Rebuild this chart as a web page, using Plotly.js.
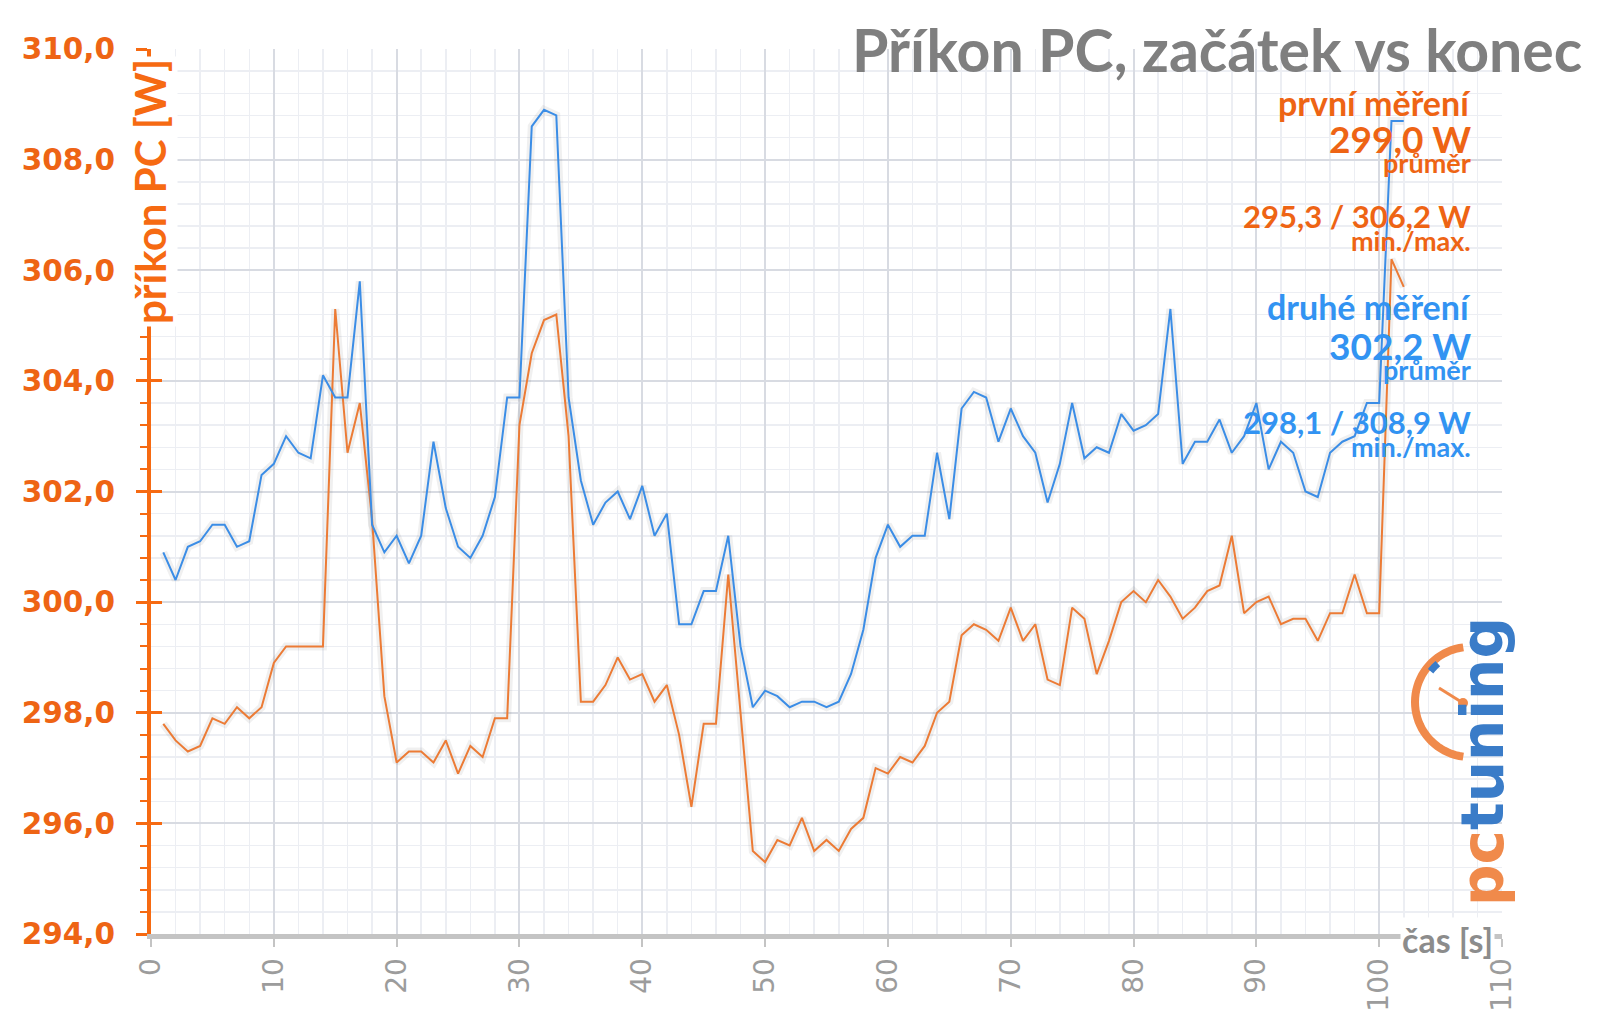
<!DOCTYPE html>
<html>
<head>
<meta charset="utf-8">
<script src="https://cdn.plot.ly/plotly-3.0.1.min.js"></script>
<style>html,body{margin:0;padding:0;background:#fff;}#chart{width:1600px;height:1017px;}</style>
</head>
<body>
<div id="chart"></div>
<script>
// time [s]
const cas = [1,2,3,4,5,6,7,8,9,10,11,12,13,14,15,16,17,18,19,20,21,22,23,24,25,26,27,28,29,30,
  31,32,33,34,35,36,37,38,39,40,41,42,43,44,45,46,47,48,49,50,51,52,53,54,55,56,57,58,59,60,
  61,62,63,64,65,66,67,68,69,70,71,72,73,74,75,76,77,78,79,80,81,82,83,84,85,86,87,88,89,90,
  91,92,93,94,95,96,97,98,99,100,101,102];

// první měření (orange)
const prvniMereni = [297.8,297.5,297.3,297.4,297.9,297.8,298.1,297.9,298.1,298.9,
  299.2,299.2,299.2,299.2,305.3,302.7,303.6,301.5,298.3,297.1,
  297.3,297.3,297.1,297.5,296.9,297.4,297.2,297.9,297.9,303.2,
  304.5,305.1,305.2,303.0,298.2,298.2,298.5,299.0,298.6,298.7,
  298.2,298.5,297.6,296.3,297.8,297.8,300.5,298.0,295.5,295.3,
  295.7,295.6,296.1,295.5,295.7,295.5,295.9,296.1,297.0,296.9,
  297.2,297.1,297.4,298.0,298.2,299.4,299.6,299.5,299.3,299.9,
  299.3,299.6,298.6,298.5,299.9,299.7,298.7,299.3,300.0,300.2,
  300.0,300.4,300.1,299.7,299.9,300.2,300.3,301.2,299.8,300.0,
  300.1,299.6,299.7,299.7,299.3,299.8,299.8,300.5,299.8,299.8,
  306.2,305.7];

// druhé měření (blue)
const druheMereni = [300.9,300.4,301.0,301.1,301.4,301.4,301.0,301.1,302.3,302.5,
  303.0,302.7,302.6,304.1,303.7,303.7,305.8,301.4,300.9,301.2,
  300.7,301.2,302.9,301.7,301.0,300.8,301.2,301.9,303.7,303.7,
  308.6,308.9,308.8,303.7,302.2,301.4,301.8,302.0,301.5,302.1,
  301.2,301.6,299.6,299.6,300.2,300.2,301.2,299.2,298.1,298.4,
  298.3,298.1,298.2,298.2,298.1,298.2,298.7,299.5,300.8,301.4,
  301.0,301.2,301.2,302.7,301.5,303.5,303.8,303.7,302.9,303.5,
  303.0,302.7,301.8,302.5,303.6,302.6,302.8,302.7,303.4,303.1,
  303.2,303.4,305.3,302.5,302.9,302.9,303.3,302.7,303.0,303.6,
  302.4,302.9,302.7,302.0,301.9,302.7,302.9,303.0,303.6,303.6,
  308.7,308.7];

// texts
const chartTitle = 'Příkon PC, začátek vs konec';
const yTitle = 'příkon PC [W]';
const xTitle = 'čas [s]';
const legendPrvni = ['první měření', '299,0 W', 'průměr', '295,3 / 306,2 W', 'min./max.'];
const legendDruhe = ['druhé měření', '302,2 W', 'průměr', '298,1 / 308,9 W', 'min./max.'];

const ORANGE_AX = '#f66a12';
const ORANGE_LN = '#ec7b35';
const BLUE_LN = '#3b8de6';
const BLUE_TX = '#3293f2';
const ORANGE_TX = '#ee6414';

// plot area in pixels (for decorations)
const L = 151, R = 1502, T = 49, B = 934;
const px = x => (x - L) / (R - L);
const py = y => (B - y) / (B - T);

const traces = [
  {x: cas, y: prvniMereni, yaxis: 'y', mode: 'lines', line: {color: 'rgba(0,0,0,0.06)', width: 8}, hoverinfo: 'skip', showlegend: false},
  {x: cas, y: druheMereni, yaxis: 'y', mode: 'lines', line: {color: 'rgba(0,0,0,0.06)', width: 8}, hoverinfo: 'skip', showlegend: false},
  {x: cas, y: prvniMereni, yaxis: 'y2', mode: 'lines', name: 'první měření', line: {color: ORANGE_LN, width: 2}},
  {x: cas, y: druheMereni, yaxis: 'y2', mode: 'lines', name: 'druhé měření', line: {color: BLUE_LN, width: 2}}
];

const legendY = [0.9401, 0.8994, 0.8712, 0.8113, 0.7831];
const legendY2 = [0.7096, 0.6655, 0.6384, 0.5785, 0.5503];
const legendSize = [34, 37, 27, 31, 27];
const annotations = [];
annotations.push({text: chartTitle, xref: 'paper', yref: 'paper', x: px(1584), y: py(50), xanchor: 'right', yanchor: 'middle',
  showarrow: false, font: {family: 'Lato', size: 59, color: '#7f7f7f', weight: 'bold'}});
legendPrvni.forEach((t, i) => annotations.push({text: t, xref: 'paper', yref: 'paper', x: px(1473), y: legendY[i],
  xanchor: 'right', yanchor: 'middle', showarrow: false, font: {family: 'Lato', size: legendSize[i], color: ORANGE_TX, weight: 'bold'}}));
legendDruhe.forEach((t, i) => annotations.push({text: t, xref: 'paper', yref: 'paper', x: px(1473), y: legendY2[i],
  xanchor: 'right', yanchor: 'middle', showarrow: false, font: {family: 'Lato', size: legendSize[i], color: BLUE_TX, weight: 'bold'}}));
annotations.push({text: yTitle, xref: 'paper', yref: 'paper', x: px(150), y: py(192), xanchor: 'center', yanchor: 'middle',
  textangle: -90, showarrow: false, bgcolor: '#ffffff', borderpad: 2,
  font: {family: 'Lato', size: 42, color: ORANGE_AX, weight: 'bold'}});
annotations.push({text: xTitle, xref: 'paper', yref: 'paper', x: px(1447), y: py(940), xanchor: 'center', yanchor: 'middle',
  showarrow: false, bgcolor: '#ffffff', borderpad: 1,
  font: {family: 'Lato', size: 34, color: '#8c8c8c', weight: 'bold'}});
// logo text
annotations.push({text: "<span style='color:#f08a4b'>pc</span><span style='color:#3a7cc8'>tuning</span>",
  xref: 'paper', yref: 'paper', x: px(1483), y: py(762), xanchor: 'center', yanchor: 'middle', textangle: -90,
  showarrow: false, font: {family: 'DejaVu Sans', size: 58, weight: 'bold', color: '#3a7cc8'}});

// logo clock arc
function arcPath(cx, cy, r, a0, a1, n) {
  let d = '';
  for (let i = 0; i <= n; i++) {
    const a = (a0 + (a1 - a0) * i / n) * Math.PI / 180;
    const x = cx + r * Math.cos(a), y = cy + r * Math.sin(a);
    d += (i === 0 ? 'M ' : ' L ') + px(x).toFixed(5) + ',' + py(y).toFixed(5);
  }
  return d;
}
const shapes = [
  {type: 'path', xref: 'paper', yref: 'paper', path: arcPath(1470, 702, 55, 97, 263, 40), line: {color: '#f08a4b', width: 8}},
  {type: 'path', xref: 'paper', yref: 'paper', path: arcPath(1470, 702, 50, 218, 230, 6), line: {color: '#3a7cc8', width: 7}},
  {type: 'path', xref: 'paper', yref: 'paper', path: 'M ' + px(1439) + ',' + py(688) + ' L ' + px(1463) + ',' + py(703), line: {color: '#f08a4b', width: 3}},
  {type: 'circle', xref: 'paper', yref: 'paper', x0: px(1458), x1: px(1468), y0: py(708), y1: py(698), fillcolor: '#f08a4b', line: {width: 0}}
];

const layout = {
  width: 1600, height: 1017,
  margin: {l: L, r: 1600 - R, t: T, b: 1017 - B, pad: 0},
  paper_bgcolor: '#ffffff', plot_bgcolor: '#ffffff',
  separators: ', ',
  showlegend: false,
  xaxis: {
    range: [0, 110], dtick: 10, tick0: 0, tickangle: -90,
    ticks: 'outside', ticklen: 8, tickwidth: 2, tickcolor: '#c4c4c4',
    showline: true, linecolor: '#c4c4c4', linewidth: 5,
    showgrid: true, gridcolor: '#d8dbe2', gridwidth: 2, zeroline: false,
    minor: {dtick: 2, showgrid: true, gridcolor: '#eceef3', gridwidth: 1.5, ticks: ''},
    tickfont: {family: 'DejaVu Sans', size: 28, color: '#9c9c9c'}
  },
  yaxis: {
    range: [294, 310], dtick: 2, tick0: 294, tickformat: '.1f',
    ticks: 'outside', ticklen: 11, tickwidth: 3, tickcolor: ORANGE_AX,
    showline: true, linecolor: ORANGE_AX, linewidth: 4,
    showgrid: true, gridcolor: '#d8dbe2', gridwidth: 2, zeroline: false,
    minor: {dtick: 0.4, showgrid: true, gridcolor: '#eceef3', gridwidth: 1.5, ticks: 'outside', ticklen: 7, tickwidth: 2, tickcolor: ORANGE_AX},
    ticklabelstandoff: 15,
    tickfont: {family: 'DejaVu Sans', size: 29.5, color: ORANGE_TX, weight: 'bold'}
  },
  yaxis2: {
    range: [294, 310], dtick: 2, tick0: 294, overlaying: 'y', side: 'left', anchor: 'x',
    ticks: 'inside', ticklen: 11, tickwidth: 3, tickcolor: ORANGE_AX,
    showticklabels: false, showgrid: false, showline: false, zeroline: false
  },
  annotations: annotations,
  shapes: shapes
};

Plotly.newPlot('chart', traces, layout, {displayModeBar: false, staticPlot: true});
</script>
</body>
</html>
